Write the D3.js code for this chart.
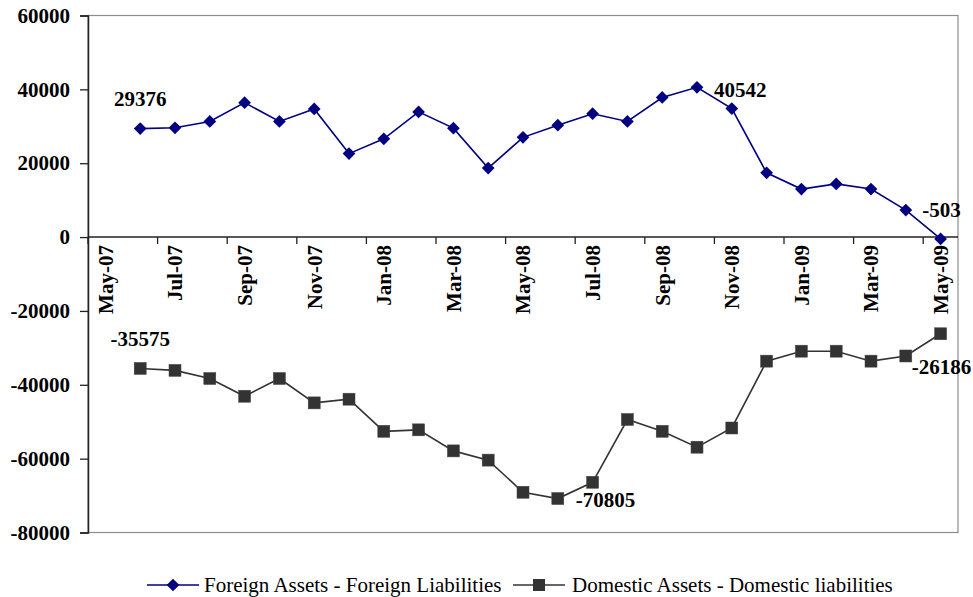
<!DOCTYPE html>
<html>
<head>
<meta charset="utf-8">
<script src="https://cdn.jsdelivr.net/npm/d3@7"></script>
<style>
  html, body { margin: 0; padding: 0; background: #fff; }
  svg { display: block; }
  text { font-family: "Liberation Serif", "Times New Roman", serif; }
</style>
</head>
<body>
<svg id="chart" width="973" height="597"></svg>
<script>
// ---- data ----
const categories = ["May-07","Jun-07","Jul-07","Aug-07","Sep-07","Oct-07","Nov-07","Dec-07",
  "Jan-08","Feb-08","Mar-08","Apr-08","May-08","Jun-08","Jul-08","Aug-08","Sep-08","Oct-08",
  "Nov-08","Dec-08","Jan-09","Feb-09","Mar-09","Apr-09","May-09"];
const foreignNet = [null, 29376, 29600, 31300, 36400, 31300, 34700, 22600,
  26600, 33900, 29500, 18700, 27000, 30300, 33400, 31300, 37800, 40542,
  34800, 17400, 13000, 14400, 13000, 7300, -503];
const domesticNet = [null, -35575, -36100, -38300, -43100, -38300, -44900, -43900,
  -52600, -52200, -57900, -60400, -69100, -70805, -66400, -49400, -52600, -56900,
  -51700, -33600, -30900, -30900, -33600, -32200, -26186];
const yTicks = [-80000, -60000, -40000, -20000, 0, 20000, 40000, 60000];
const seriesNames = ["Foreign Assets - Foreign Liabilities", "Domestic Assets - Domestic liabilities"];
// labelled points: [series index, category, text]
const pointLabels = [
  [0, "Jun-07", "29376"], [0, "Oct-08", "40542"], [0, "May-09", "-503"],
  [1, "Jun-07", "-35575"], [1, "Jun-08", "-70805"], [1, "May-09", "-26186"]
];

// ---- layout ----
const svg = d3.select("#chart");
const L = 88, R = 958, T = 15.5, B = 532.5;
const x = d3.scaleBand().domain(categories).range([L, R]).padding(0);
const y = d3.scaleLinear().domain([-80000, 60000]).range([B, T]);
const cx = c => x(c) + x.bandwidth() / 2;

// plot area border (grey)
svg.append("rect").attr("x", L).attr("y", T).attr("width", R - L).attr("height", B - T)
  .attr("fill", "none").attr("stroke", "#8c8c8c").attr("stroke-width", 1.2);

// y axis
const yAxis = svg.append("g").attr("transform", `translate(${L},0)`)
  .call(d3.axisLeft(y).tickValues(yTicks).tickSize(8).tickPadding(10).tickFormat(d => String(d)));
yAxis.select(".domain").attr("stroke", "#222").attr("stroke-width", 1.5);
yAxis.selectAll(".tick line").attr("stroke", "#222").attr("stroke-width", 1.3);
yAxis.selectAll(".tick text").attr("fill", "#000").attr("font-size", 21).attr("font-weight", "bold")
  .attr("font-family", "Liberation Serif");

// zero (category) axis line
svg.append("line").attr("x1", L).attr("x2", R).attr("y1", y(0)).attr("y2", y(0))
  .attr("stroke", "#222").attr("stroke-width", 1.5);

// x tick marks every 2 categories (at boundaries) and labels
const xg = svg.append("g");
categories.forEach((c, i) => {
  if (i % 2 === 0) {
    xg.append("line").attr("x1", x(c)).attr("x2", x(c)).attr("y1", y(0)).attr("y2", y(0) + 7)
      .attr("stroke", "#222").attr("stroke-width", 1.3);
    xg.append("text")
      .attr("transform", `translate(${cx(c)},${y(0) + 8}) rotate(-90)`)
      .attr("dy", "0.35em")
      .attr("text-anchor", "end")
      .attr("font-size", 21).attr("font-weight", "bold").attr("fill", "#000")
      .text(c);
  }
});

// series
const line = d3.line().defined(d => d.v !== null).x(d => cx(d.c)).y(d => y(d.v));
const fData = categories.map((c, i) => ({ c, v: foreignNet[i] }));
const dData = categories.map((c, i) => ({ c, v: domesticNet[i] }));

svg.append("path").datum(fData).attr("d", line).attr("fill", "none")
  .attr("stroke", "#000080").attr("stroke-width", 1.6);
svg.append("path").datum(dData).attr("d", line).attr("fill", "none")
  .attr("stroke", "#333333").attr("stroke-width", 1.6);

svg.append("g").selectAll("path").data(fData.filter(d => d.v !== null)).join("path")
  .attr("d", d3.symbol().type(d3.symbolSquare).size(81))
  .attr("transform", d => `translate(${cx(d.c)},${y(d.v)}) rotate(45)`)
  .attr("fill", "#000080");
svg.append("g").selectAll("rect").data(dData.filter(d => d.v !== null)).join("rect")
  .attr("x", d => cx(d.c) - 6).attr("y", d => y(d.v) - 6)
  .attr("width", 12).attr("height", 12)
  .attr("fill", "#333333").attr("stroke", "#444").attr("stroke-width", 0.5);

// data labels
const series = [foreignNet, domesticNet];
const offsets = {
  "29376": { dx: 0, dy: -23, anchor: "middle" },
  "40542": { dx: 17, dy: 10, anchor: "start" },
  "-503": { dx: 1, dy: -22, anchor: "middle" },
  "-35575": { dx: 0, dy: -22, anchor: "middle" },
  "-70805": { dx: 18, dy: 8, anchor: "start" },
  "-26186": { dx: 1, dy: 40, anchor: "middle" }
};
pointLabels.forEach(([s, c, t]) => {
  const v = series[s][categories.indexOf(c)];
  const o = offsets[t];
  svg.append("text").attr("x", cx(c) + o.dx).attr("y", y(v) + o.dy)
    .attr("text-anchor", o.anchor).attr("font-size", 21).attr("font-weight", "bold")
    .attr("fill", "#000").text(t);
});

// legend
const leg = svg.append("g");
const legY = 585;
leg.append("line").attr("x1", 147).attr("x2", 199).attr("y1", legY).attr("y2", legY)
  .attr("stroke", "#000080").attr("stroke-width", 1.6);
leg.append("path").attr("d", d3.symbol().type(d3.symbolSquare).size(81)())
  .attr("transform", `translate(173,${legY}) rotate(45)`).attr("fill", "#000080");
leg.append("text").attr("x", 204).attr("y", legY + 7).attr("font-size", 21).attr("fill", "#000")
  .text(seriesNames[0]);
leg.append("line").attr("x1", 513).attr("x2", 565).attr("y1", legY).attr("y2", legY)
  .attr("stroke", "#333333").attr("stroke-width", 1.6);
leg.append("rect").attr("x", 539 - 6).attr("y", legY - 6).attr("width", 12).attr("height", 12)
  .attr("fill", "#333333");
leg.append("text").attr("x", 572).attr("y", legY + 7).attr("font-size", 21).attr("fill", "#000")
  .text(seriesNames[1]);
</script>
</body>
</html>
